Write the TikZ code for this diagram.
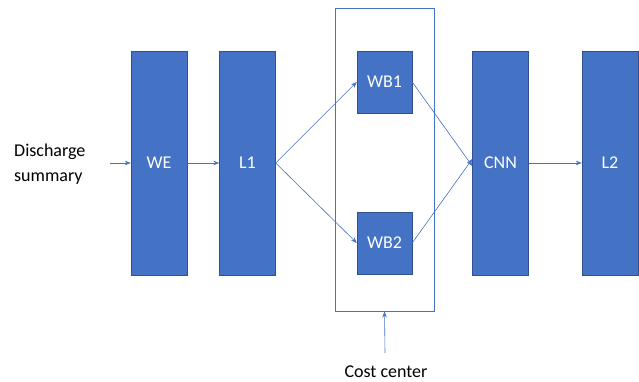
\documentclass[tikz,border=0pt]{standalone}
\usepackage{fontspec}
\setmainfont{Carlito}
\usetikzlibrary{arrows.meta}

\definecolor{blockfill}{RGB}{68,114,196}
\definecolor{blockline}{RGB}{47,82,143}

\tikzset{
  layer/.style={draw=blockline, fill=blockfill, text=white, inner sep=0pt,
    minimum width=56, minimum height=224, font=\fontsize{18}{21}\selectfont},
  wbox/.style={layer, minimum width=55, minimum height=62},
  link/.style={draw=blockfill, line width=0.6pt, -{Stealth[length=6pt,width=4.5pt]}},
  label/.style={inner sep=0pt, font=\fontsize{18}{25}\selectfont}
}

\begin{document}
\begin{tikzpicture}[x=1pt,y=1pt,yscale=-1,xscale=1]
\useasboundingbox (0,0) rectangle (639,382);

%Cost center frame
\node [draw=blockfill, line width=0.9pt, minimum width=99, minimum height=303, inner sep=0pt] (cc) at (384.5,159.5) {};

%Layers
\node [layer] (we) at (159,163) {WE};
\node [layer] (l1) at (247.5,163) {L1};
\node [layer] (cnn) at (500.5,163) {CNN};
\node [layer] (l2) at (610,163) {L2};
\node [wbox] (wb1) at (384.5,82) {WB1};
\node [wbox] (wb2) at (384.5,243) {WB2};

% Text Node
\node [label, anchor=west, align=left] (ds) at (14,164) {Discharge\\summary};
% Text Node
\node [label] (cctext) at (386,372) {Cost center};

\coordinate (src) at (110,163);
\coordinate (ccfoot) at (385,353);

%Connectors
\draw [link] (src) -- (we.west);
\draw [link] (we.east) -- (l1.west);
\draw [link] (l1.east) -- (wb1.west);
\draw [link] (l1.east) -- (wb2.west);
\draw [link] (wb1.east) -- ([yshift=3pt]cnn.west);
\draw [link] (wb2.east) -- ([yshift=-4pt]cnn.west);
\draw [link] (cnn.east) -- (l2.west);
\draw [link] (ccfoot) -- (cc.south);

\end{tikzpicture}
\end{document}
